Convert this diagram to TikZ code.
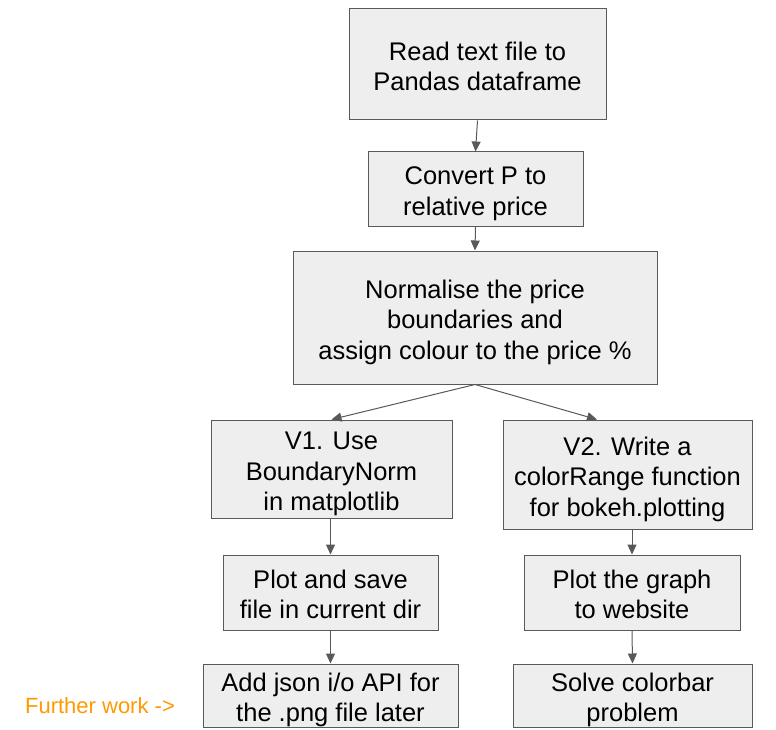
\documentclass[tikz,border=0pt]{standalone}
\usepackage{fontspec}
\setmainfont{Liberation Sans}
\usetikzlibrary{arrows.meta}
\definecolor{boxfill}{HTML}{EEEEEE}
\definecolor{boxline}{HTML}{595959}
\definecolor{orangetxt}{HTML}{FF9900}
\newcommand{\lowtext}[1]{\raisebox{-5pt}[\height][\depth]{\begin{tabular}{@{}c@{}}#1\end{tabular}}}
\begin{document}
\begin{tikzpicture}[x=1pt,y=-1pt,
  stepbox/.style={draw=boxline,fill=boxfill,line width=1pt,align=center,inner sep=0pt,
    font=\fontsize{25.5}{30.5}\selectfont},
  conn/.style={draw=boxline,line width=1pt,-{Triangle[length=10pt,width=9pt]}}]
\useasboundingbox (0,0) rectangle (776,730);
\node[stepbox,minimum width=257pt,minimum height=111pt] (n1) at (477.5,64.5) {\lowtext{Read text file to\\Pandas dataframe}};
\node[stepbox,minimum width=215pt,minimum height=74pt] (n2) at (475.5,189) {\lowtext{Convert P to\\relative price}};
\node[stepbox,minimum width=364pt,minimum height=133pt] (n3) at (475,317.5) {\lowtext{Normalise the price\\boundaries and\\assign colour to the price \%}};
\node[stepbox,minimum width=241pt,minimum height=98pt] (n4) at (331.5,469) {\lowtext{V1. Use\\BoundaryNorm\\in matplotlib}};
\node[stepbox,minimum width=249pt,minimum height=109pt] (n5) at (627.5,474.5) {\lowtext{V2. Write a\\colorRange function\\for bokeh.plotting}};
\node[stepbox,minimum width=215pt,minimum height=75pt] (n6) at (330.5,592.5) {\lowtext{Plot and save\\file in current dir}};
\node[stepbox,minimum width=216pt,minimum height=75pt] (n7) at (632,592.5) {\lowtext{Plot the graph\\to website}};
\node[stepbox,minimum width=255pt,minimum height=63pt] (n8) at (330.5,695.5) {\lowtext{Add json i/o API for\\the .png file later}};
\node[stepbox,minimum width=239pt,minimum height=63pt] (n9) at (632.5,695.5) {\lowtext{Solve colorbar\\problem}};
\node[text=orangetxt,font=\fontsize{22}{26}\selectfont,inner sep=0pt] (fw) at (100,706) {Further work ->};
\coordinate (t5) at ([xshift=-30.5pt]n5.north);
\draw[conn] (n1.south) -- (n2.north);
\draw[conn] (n2.south) -- (n3.north);
\draw[conn] (n3.south) -- (n4.north);
\draw[conn] (n3.south) -- (t5);
\draw[conn] (n4.south -| n6.north) -- (n6.north);
\draw[conn] (n5.south -| n7.north) -- (n7.north);
\draw[conn] (n6.south) -- (n8.north);
\draw[conn] (n7.south) -- (n9.north);
\end{tikzpicture}
\end{document}
